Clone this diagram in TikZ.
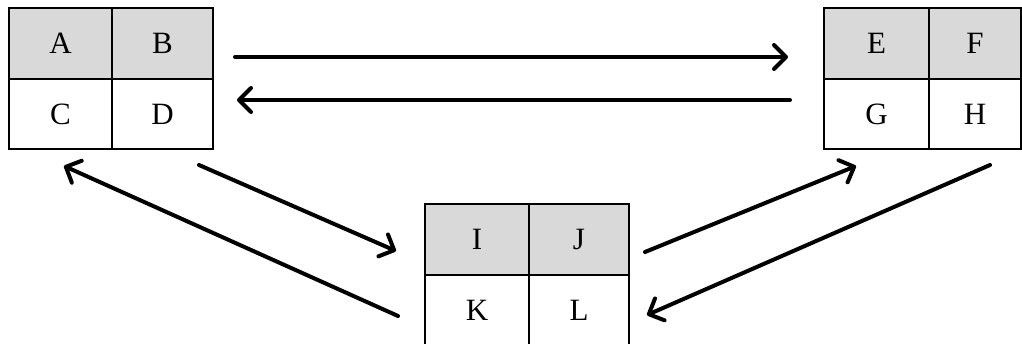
\documentclass[tikz,border=0pt]{standalone}
\usepackage{fontspec}
\setmainfont{Liberation Serif}
\usetikzlibrary{arrows.meta}
\definecolor{cellgray}{HTML}{D9D9D9}
\tikzset{
  cellbox/.style={draw=black, line width=2pt, inner sep=0pt, outer sep=0pt,
    font=\fontsize{31}{33}\selectfont},
  flow/.style={line width=4pt, line cap=round,
    -{Straight Barb[length=12pt,width=24pt,round]}},
}
% \mycell{name}{x1}{y1}{x2}{y2}{fill}{text}
\newcommand\mycell[7]{%
  \node[cellbox, fill=#6, minimum width={(#4-#2)*1pt}, minimum height={(#5-#3)*1pt}]
    (#1) at ({(#2+#4)/2},{(#3+#5)/2}) {#7};}
\begin{document}
\begin{tikzpicture}[x=1pt,y=-1pt]
\useasboundingbox (0,0) rectangle (1022,344);
\begin{scope}
\clip (0,0) rectangle (1022,344);
% table 1
\mycell{A}{9}{8}{112}{79}{cellgray}{A}
\mycell{B}{112}{8}{213}{79}{cellgray}{B}
\mycell{C}{9}{79}{112}{149}{white}{C}
\mycell{D}{112}{79}{213}{149}{white}{D}
% table 2
\mycell{E}{824}{8}{929}{79}{cellgray}{E}
\mycell{F}{929}{8}{1021}{79}{cellgray}{F}
\mycell{G}{824}{79}{929}{149}{white}{G}
\mycell{H}{929}{79}{1021}{149}{white}{H}
% table 3
\mycell{I}{425}{204}{529}{275}{cellgray}{I}
\mycell{J}{529}{204}{629}{275}{cellgray}{J}
\mycell{K}{425}{275}{529}{346}{white}{K}
\mycell{L}{529}{275}{629}{346}{white}{L}
\end{scope}
% connector end points
\coordinate (t1s) at (235,57);  \coordinate (t1e) at (788,57);
\coordinate (t2s) at (790,100); \coordinate (t2e) at (237,100);
\coordinate (d1s) at (199,165); \coordinate (d1e) at (396,251);
\coordinate (d2s) at (398,316); \coordinate (d2e) at (64,166);
\coordinate (d3s) at (645,252); \coordinate (d3e) at (856,166);
\coordinate (d4s) at (990,165); \coordinate (d4e) at (647,315);
\draw[flow] (t1s) -- (t1e);
\draw[flow] (t2s) -- (t2e);
\draw[flow] (d1s) -- (d1e);
\draw[flow] (d2s) -- (d2e);
\draw[flow] (d3s) -- (d3e);
\draw[flow] (d4s) -- (d4e);
\end{tikzpicture}
\end{document}
